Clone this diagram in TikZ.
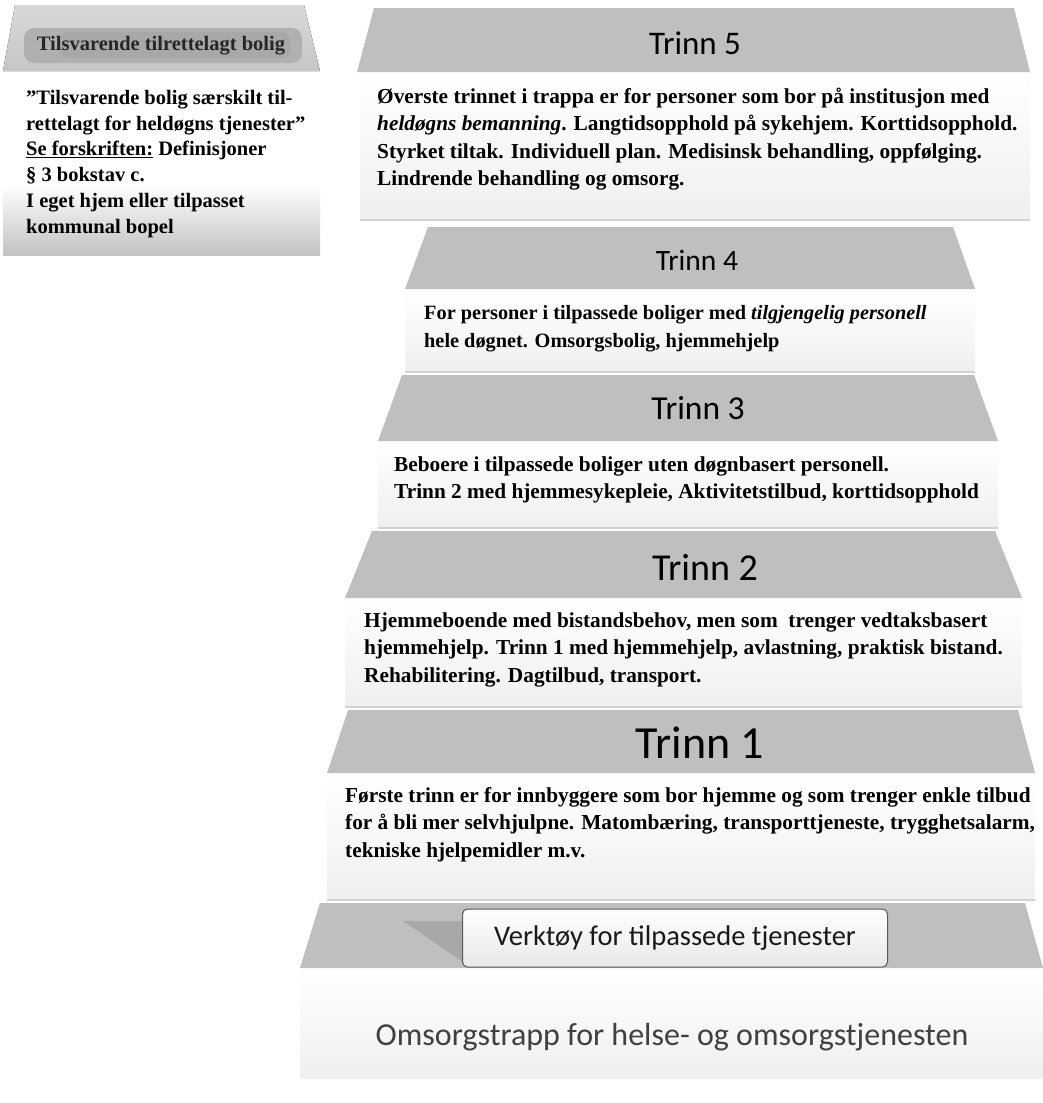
\documentclass[tikz,border=0pt]{standalone}
\usepackage{fontspec}
\setmainfont{Liberation Serif}
\newfontfamily\carl{Carlito}
\newcommand{\fstrut}{\rule{0pt}{20pt}}
\tikzset{
  topface/.style={fill=gray!50, draw=none},
  frontface/.style={top color=white, bottom color=gray!12, draw=none},
  steptitle/.style={text=black},
  bodytext/.style={anchor=north west, inner sep=0pt, align=left, text=black,
    font=\bfseries\fontsize{21.3}{27.5}\selectfont},
  sepline/.style={draw=gray!35, line width=1.2pt}
}
\begin{document}
\begin{tikzpicture}[x=1pt,y=-1pt]
\fill[white] (0,0) rectangle (1043,1103);
\useasboundingbox (0,0) rectangle (1043,1103);

% ---------- left box ----------
\fill[top color=gray!30, bottom color=gray!45] (15,5) -- (304,5) -- (320,71) -- (3,71) -- cycle;
\fill[gray!62, rounded corners=10] (24,28) rectangle (302,63);
\fill[gray!72, opacity=0.6, rounded corners=8] (60,32) rectangle (290,58);
\node[font=\bfseries\fontsize{20.5}{24}\selectfont, text=black!85] (hdr) at (161,46) {Tilsvarende tilrettelagt bolig};
\fill[top color=white, bottom color=gray!48] (3,185) rectangle (320,255);
\node[anchor=north west, inner sep=0pt, align=left, font=\bfseries\fontsize{20.5}{25.8}\selectfont] (lefttext) at (26,84)
{\fstrut”Tilsvarende bolig særskilt til-\\
rettelagt for heldøgns tjenester”\\
\underline{Se forskriften:} Definisjoner\\
§ 3 bokstav c.\\
I eget hjem eller tilpasset\\
kommunal bopel};

% ---------- bottom step ----------
\fill[frontface] (300,968) rectangle (1043,1078);
\fill[topface] (320,903) -- (1025,903) -- (1043,968) -- (300,968) -- cycle;
\fill[gray!68] (403,921) -- (470,921) -- (470,967) -- cycle;
\node[draw=black!65, line width=1pt, rounded corners=5, top color=white, bottom color=gray!18,
  minimum width=425pt, minimum height=58pt, inner sep=0pt,
  font=\carl\fontsize{28.5}{31}\selectfont, text=black!90] (tool) at (675,938) {Verktøy for tilpassede tjenester};
\node[font=\carl\fontsize{32}{35}\selectfont, text=black!75] (main) at (672,1037) {Omsorgstrapp for helse- og omsorgstjenesten};

% ---------- Trinn 1 ----------
\fill[frontface] (327,773) rectangle (1035,900);
\fill[topface] (348,710) -- (1018,710) -- (1035,773) -- (327,773) -- cycle;
\draw[sepline] (327,900) -- (1035,900);
\node[steptitle, font=\carl\fontsize{46}{50}\selectfont] (t1) at (700,743) {Trinn 1};
\node[bodytext] (b1) at (345,782)
{\fstrut Første trinn er for innbyggere som bor hjemme og som trenger enkle tilbud\\
for å bli mer selvhjulpne. Matombæring, transporttjeneste, trygghetsalarm,\\
tekniske hjelpemidler m.v.};

% ---------- Trinn 2 ----------
\fill[frontface] (345,598) rectangle (1022,707);
\fill[topface] (372,531) -- (995,531) -- (1022,598) -- (345,598) -- cycle;
\draw[sepline] (345,707) -- (1022,707);
\node[steptitle, font=\carl\fontsize{38}{42}\selectfont] (t2) at (705,567) {Trinn 2};
\node[bodytext] (b2) at (364,607)
{\fstrut Hjemmeboende med bistandsbehov, men som \ trenger vedtaksbasert\\
hjemmehjelp. Trinn 1 med hjemmehjelp, avlastning, praktisk bistand.\\
Rehabilitering. Dagtilbud, transport.};

% ---------- Trinn 3 ----------
\fill[frontface] (378,441) rectangle (998,528);
\fill[topface] (402,375) -- (974,375) -- (998,441) -- (378,441) -- cycle;
\draw[sepline] (378,528) -- (998,528);
\node[steptitle, font=\carl\fontsize{33.5}{37}\selectfont] (t3) at (698,408) {Trinn 3};
\node[bodytext] (b3) at (394,451)
{\fstrut Beboere i tilpassede boliger uten døgnbasert personell.\\
Trinn 2 med hjemmesykepleie, Aktivitetstilbud, korttidsopphold};

% ---------- Trinn 4 ----------
\fill[frontface] (405,289) rectangle (975,372);
\fill[topface] (428,227) -- (953,227) -- (975,289) -- (405,289) -- cycle;
\draw[sepline] (405,372) -- (975,372);
\node[steptitle, font=\carl\fontsize{29.5}{33}\selectfont] (t4) at (697,260) {Trinn 4};
\node[bodytext, font=\bfseries\fontsize{20.3}{28}\selectfont] (b4) at (424,299)
{\fstrut For personer i tilpassede boliger med \textit{tilgjengelig personell}\\
hele døgnet. Omsorgsbolig, hjemmehjelp};

% ---------- Trinn 5 ----------
\fill[frontface] (360,72) rectangle (1030,219);
\fill[topface] (374,8) -- (1014,8) -- (1030,72) -- (357,72) -- cycle;
\draw[sepline] (360,220) -- (1030,220);
\node[steptitle, font=\carl\fontsize{33}{36}\selectfont] (t5) at (695,43) {Trinn 5};
\node[bodytext] (b5) at (377,83)
{\fstrut Øverste trinnet i trappa er for personer som bor på institusjon med\\
\textit{heldøgns bemanning}. Langtidsopphold på sykehjem. Korttidsopphold.\\
Styrket tiltak. Individuell plan. Medisinsk behandling, oppfølging.\\
Lindrende behandling og omsorg.};
\end{tikzpicture}
\end{document}
